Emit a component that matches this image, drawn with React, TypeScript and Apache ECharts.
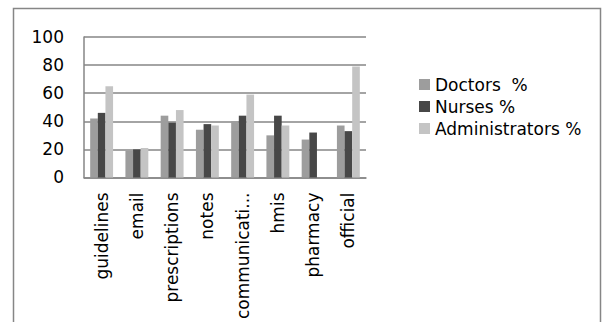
import React, { useEffect, useRef } from "react";
import * as echarts from "echarts";

const categories = ["guidelines", "email", "prescriptions", "notes", "communication", "hmis", "pharmacy", "official"];
const doctors = [42, 19, 44, 34, 40, 30, 27, 37];
const nurses = [46, 20, 39, 38, 44, 44, 32, 33];
const administrators = [65, 21, 48, 37, 59, 37, 0, 79];
const seriesNames = ["Doctors  %", "Nurses %", "Administrators %"];
const yTicks = [0, 20, 40, 60, 80, 100];

const FONT = "DejaVu Sans";

export default function App() {
  const ref = useRef<HTMLDivElement>(null);
  useEffect(() => {
    if (!ref.current) return;
    const chart = echarts.init(ref.current, undefined, { renderer: "svg" });
    chart.setOption({
      animation: false,
      backgroundColor: "#ffffff",
      textStyle: { fontFamily: FONT },
      graphic: [
        {
          type: "rect",
          shape: { x: 13.5, y: 8.5, width: 587, height: 330 },
          style: { fill: "none", stroke: "#868686", lineWidth: 1.5 },
          silent: true,
        },
      ],
      grid: { left: 84, right: 240, top: 37, bottom: 140, containLabel: false },
      legend: {
        orient: "vertical",
        left: 414,
        top: 71,
        itemWidth: 11,
        itemHeight: 11,
        itemGap: 5,
        icon: "rect",
        textStyle: { fontFamily: FONT, fontSize: 17, color: "#000" },
        data: seriesNames,
      },
      xAxis: {
        type: "category",
        data: categories,
        axisLine: { show: true, lineStyle: { color: "#868686", width: 1.5 } },
        axisTick: { show: false },
        axisLabel: {
          rotate: 90,
          interval: 0,
          margin: 15,
          fontFamily: FONT,
          fontSize: 17,
          color: "#000",
          width: 129,
          overflow: "truncate",
          ellipsis: "...",
        },
      },
      yAxis: {
        type: "value",
        min: yTicks[0],
        max: yTicks[yTicks.length - 1],
        interval: 20,
        axisLine: { show: true, lineStyle: { color: "#868686", width: 1.5 } },
        axisTick: { show: false },
        splitLine: { show: true, lineStyle: { color: "#868686", width: 1.5 } },
        axisLabel: { margin: 20, fontFamily: FONT, fontSize: 17, color: "#000" },
      },
      series: [
        {
          name: seriesNames[0],
          type: "bar",
          data: doctors,
          itemStyle: { color: "#9D9D9D" },
          barGap: "0%",
          barCategoryGap: "35%",
        },
        {
          name: seriesNames[1],
          type: "bar",
          data: nurses,
          itemStyle: { color: "#474747" },
          barGap: "0%",
          barCategoryGap: "35%",
        },
        {
          name: seriesNames[2],
          type: "bar",
          data: administrators,
          itemStyle: { color: "#C4C4C4" },
          barGap: "0%",
          barCategoryGap: "35%",
        },
      ],
    });
    return () => chart.dispose();
  }, []);
  return (
    <div
      ref={ref}
      style={{ position: "fixed", left: 0, top: 0, width: 606, height: 322 }}
    />
  );
}
